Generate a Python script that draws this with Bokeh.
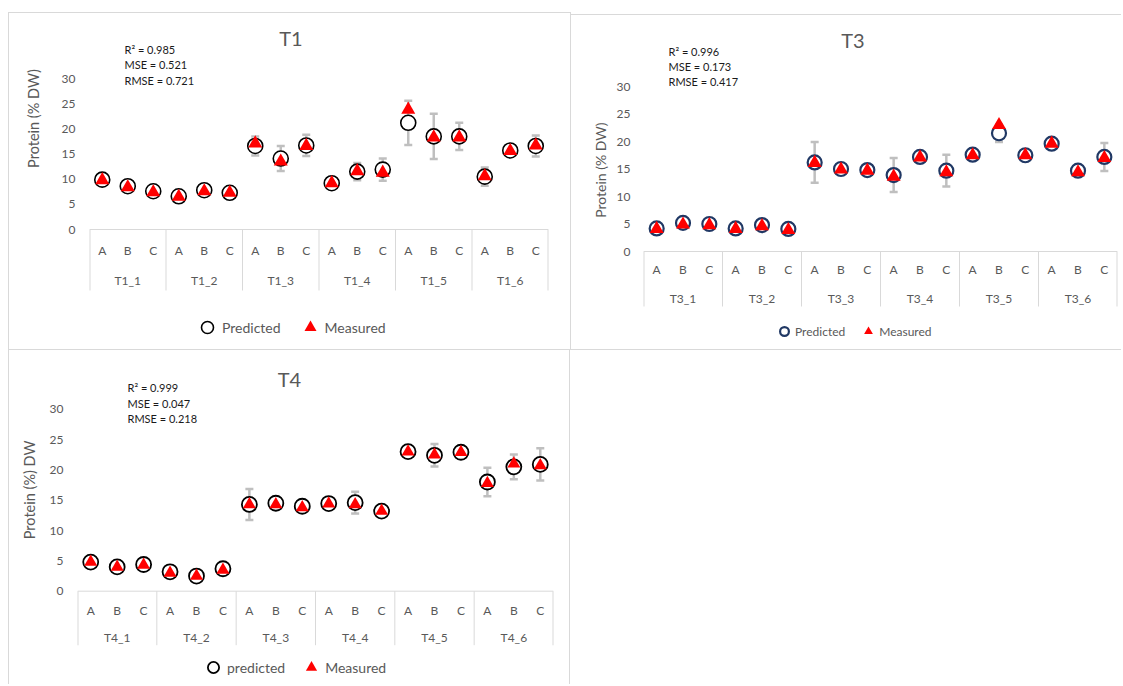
import math
from bokeh.plotting import figure
from bokeh.layouts import row, column
from bokeh.models import (ColumnDataSource, FactorRange, Range1d, FixedTicker,
                          Whisker, TeeHead, Label, Legend, LegendItem, Title)
from bokeh.core.properties import value
from bokeh.embed import file_html
from bokeh.resources import INLINE

# ---- data -----------------------------------------------------------------
letters = ["A", "B", "C"]
y_ticks = [0, 5, 10, 15, 20, 25, 30]

t1_groups = ["T1_1", "T1_2", "T1_3", "T1_4", "T1_5", "T1_6"]
t1_predicted = [9.9, 8.6, 7.6, 6.6, 7.8, 7.3, 16.6, 14.1, 16.7,
                9.2, 11.5, 11.9, 21.2, 18.5, 18.5, 10.5, 15.7, 16.6]
t1_measured = [9.8, 8.4, 7.4, 6.5, 7.6, 7.3, 17.1, 13.5, 16.6,
               9.2, 11.6, 11.3, 23.8, 18.3, 18.3, 10.6, 15.6, 16.7]
t1_error = [0.5, 0.5, 0.5, 0.4, 0.5, 0.4, 1.9, 2.5, 2.1,
            0.9, 1.7, 2.2, 4.4, 4.5, 2.7, 1.8, 0.6, 2.1]
t1_stats = ["R\u00b2 = 0.985", "MSE = 0.521", "RMSE = 0.721"]

t3_groups = ["T3_1", "T3_2", "T3_3", "T3_4", "T3_5", "T3_6"]
t3_predicted = [4.2, 5.2, 5.0, 4.2, 4.8, 4.1, 16.2, 15.0, 14.8,
                13.9, 17.2, 14.7, 17.6, 21.5, 17.5, 19.6, 14.7, 17.2]
t3_measured = [4.1, 4.9, 4.8, 4.1, 4.6, 3.9, 16.1, 14.9, 14.7,
               13.6, 17.1, 14.4, 17.5, 23.0, 17.5, 19.6, 14.4, 17.0]
t3_error = [0.4, 0.5, 0.5, 0.4, 0.6, 0.4, 3.7, 0.6, 0.8,
            3.1, 0.7, 2.9, 0.6, 1.6, 0.6, 0.7, 0.4, 2.55]
t3_stats = ["R\u00b2 = 0.996", "MSE = 0.173", "RMSE = 0.417"]

t4_groups = ["T4_1", "T4_2", "T4_3", "T4_4", "T4_5", "T4_6"]
t4_predicted = [4.8, 4.0, 4.4, 3.2, 2.5, 3.7, 14.3, 14.5, 14.0,
                14.45, 14.6, 13.2, 23.0, 22.4, 22.9, 18.0, 20.5, 20.9]
t4_measured = [4.8, 4.0, 4.3, 3.0, 2.5, 3.5, 14.3, 14.3, 13.8,
               14.4, 14.3, 13.2, 23.0, 22.5, 22.9, 17.8, 21.0, 20.7]
t4_error = [0.5, 0.5, 0.6, 0.5, 0.5, 0.8, 2.55, 0.7, 0.8,
            0.5, 1.8, 0.6, 0.5, 1.85, 0.6, 2.35, 2.05, 2.65]
t4_stats = ["R\u00b2 = 0.999", "MSE = 0.047", "RMSE = 0.218"]

# ---- styling --------------------------------------------------------------
FONT = "Lato"
GREY = "#595959"
RULE = "#d9d9d9"
BAR = "#bfbfbf"
RED = "#ff0000"


def panel(title, groups, predicted, measured, error, stats, ylabel, names, ring, geo):
    factors = [(g, l) for g in groups for l in letters]
    w, h = geo["size"]
    x0, x1 = geo["x_span"]          # canvas px of the outer category edges
    zero, top_tick = geo["y_span"]  # canvas px of the 0 and 30 ticks
    ppu = (zero - top_tick) / (y_ticks[-1] - y_ticks[0])
    ppx = (x1 - x0) / len(factors)

    def vy(py):
        return (zero - py) / ppu

    def vx(px):
        return (px - x0) / ppx

    p = figure(width=w, height=h,
               x_range=FactorRange(factors=factors, group_padding=0, range_padding=0),
               y_range=Range1d(vy(h), vy(0)),
               x_axis_location=None, y_axis_location="left",
               min_border_left=x0, min_border_right=w - x1,
               min_border_top=0, min_border_bottom=0,
               output_backend="svg", toolbar_location=None, tools="",
               background_fill_color="white", border_fill_color="white")
    p.outline_line_color = None
    p.grid.visible = False
    p.styles = geo["css"]
    p.margin = geo["margin"]

    # value axis
    ax = p.yaxis[0]
    ax.ticker = FixedTicker(ticks=y_ticks)
    ax.axis_line_color = None
    ax.major_tick_line_color = None
    ax.minor_tick_line_color = None
    ax.major_tick_out = 0
    ax.major_label_standoff = geo["standoff"]
    ax.major_label_text_font = FONT
    ax.major_label_text_font_size = "12px"
    ax.major_label_text_color = GREY

    # value-axis title, set in the left side panel
    yt = Title(text=ylabel, align="right", offset=geo["ytitle_off"],
               standoff=geo["ytitle_standoff"], vertical_align="top",
               text_font=FONT, text_font_size=geo["ytitle_font"],
               text_font_style="normal", text_color=GREY)
    p.add_layout(yt, "left")

    # chart title and statistics block
    tx, ty = geo["title"]
    p.add_layout(Label(x=vx(tx), y=vy(ty), text=title, text_align="center",
                       text_baseline="middle", text_font=FONT,
                       text_font_size="20px", text_color=GREY))
    for txt, py in zip(stats, geo["stats_y"]):
        p.add_layout(Label(x=vx(geo["stats_x"]), y=vy(py), text=txt,
                           text_font=FONT, text_font_size="11px",
                           text_color="#1a1a1a", text_baseline="middle"))

    # category axis: base line, group separators and two rows of labels
    r_letter, r_group, r_sep = geo["rows"]
    edges = [i * len(letters) for i in range(len(groups) + 1)]
    p.segment(x0=[edges[0]], y0=[0], x1=[edges[-1]], y1=[0],
              line_color=RULE, line_width=1)
    p.segment(x0=edges, y0=[0] * len(edges), x1=edges,
              y1=[vy(zero + r_sep)] * len(edges), line_color=RULE,
              line_width=[2] + [1] * (len(edges) - 2) + [2])
    p.text(x=factors, y=[vy(zero + r_letter)] * len(factors),
           text=[f[1] for f in factors], text_align="center", text_baseline="middle",
           text_font=value(FONT), text_font_size="12px", text_color=GREY)
    p.text(x=groups, y=[vy(zero + r_group)] * len(groups), text=groups,
           text_align="center", text_baseline="middle",
           text_font=value(FONT), text_font_size="12px", text_color=GREY)

    src = ColumnDataSource(dict(
        x=factors, pred=predicted, meas=measured,
        upper=[a + e for a, e in zip(predicted, error)],
        lower=[a - e for a, e in zip(predicted, error)]))

    whisk = Whisker(base="x", upper="upper", lower="lower", source=src,
                    line_color=BAR, line_width=2.5,
                    upper_head=TeeHead(size=8, line_color=BAR, line_width=2.5),
                    lower_head=TeeHead(size=8, line_color=BAR, line_width=2.5))
    p.add_layout(whisk)

    circ = p.scatter(x="x", y="pred", source=src, marker="circle",
                     size=geo["ring_size"], fill_color="white",
                     line_color=ring, line_width=geo["ring_width"])
    tri = p.scatter(x="x", y="meas", source=src, marker="triangle",
                    size=geo["tri_size"], fill_color=RED, line_color=None)

    gw = geo["leg_glyph"]
    leg = Legend(items=[LegendItem(label=names[0], renderers=[circ]),
                        LegendItem(label=names[1], renderers=[tri])],
                 orientation="horizontal",
                 location=(geo["leg_left"] - x0, h - geo["leg_bottom"]),
                 border_line_color=None, background_fill_alpha=0,
                 padding=0, margin=0, spacing=geo["leg_spacing"],
                 glyph_width=gw, glyph_height=gw,
                 label_standoff=geo["leg_standoff"], label_height=gw,
                 label_text_font=FONT, label_text_font_size=geo["leg_font"],
                 label_text_color=GREY)
    p.add_layout(leg, "center")
    return p


geo_t1 = dict(size=(563, 338), css={"border": "1px solid " + RULE}, margin=(12, 0, 0, 8),
              x_span=(80, 539), y_span=(216, 65),
              rows=(21, 51, 61), standoff=14, title=(281.5, 24),
              ytitle_off=52, ytitle_standoff=29, ytitle_font="14.5px",
              stats_x=115, stats_y=[36, 51, 67],
              ring_size=15, ring_width=1.6, tri_size=14,
              leg_glyph=30, leg_standoff=-5, leg_spacing=14, leg_font="14px",
              leg_left=183, leg_bottom=329)

geo_t3 = dict(size=(550, 336),
              css={"border-top": "1px solid " + RULE, "border-bottom": "1px solid " + RULE},
              margin=(14, 0, 0, 0),
              x_span=(72, 546), y_span=(236, 71),
              rows=(18, 47, 55), standoff=13, title=(281.5, 24),
              ytitle_off=107, ytitle_standoff=5, ytitle_font="14px",
              stats_x=97, stats_y=[36, 51, 66],
              ring_size=14, ring_width=2.2, tri_size=14,
              leg_glyph=22, leg_standoff=-3, leg_spacing=12, leg_font="12px",
              leg_left=202, leg_bottom=327)

geo_t4 = dict(size=(562, 334),
              css={"border-left": "1px solid " + RULE, "border-right": "1px solid " + RULE},
              margin=(0, 0, 0, 8),
              x_span=(68, 544), y_span=(240.7, 58.7),
              rows=(19, 46, 54), standoff=14, title=(280, 28),
              ytitle_off=90, ytitle_standoff=13, ytitle_font="14.5px",
              stats_x=118, stats_y=[37, 53, 68],
              ring_size=15, ring_width=1.8, tri_size=13,
              leg_glyph=28, leg_standoff=-6, leg_spacing=12, leg_font="14px",
              leg_left=190, leg_bottom=331)

p1 = panel("T1", t1_groups, t1_predicted, t1_measured, t1_error, t1_stats,
           "Protein  (% DW)", ["Predicted", "Measured"], "#000000", geo_t1)
p3 = panel("T3", t3_groups, t3_predicted, t3_measured, t3_error, t3_stats,
           "Protein (% DW)", ["Predicted", "Measured"], "#203864", geo_t3)
p4 = panel("T4", t4_groups, t4_predicted, t4_measured, t4_error, t4_stats,
           "Protein (%) DW", ["predicted", "Measured"], "#000000", geo_t4)

page = column(row(p1, p3), p4)
open("out.html", "w").write(file_html(page, INLINE, title="Protein"))
